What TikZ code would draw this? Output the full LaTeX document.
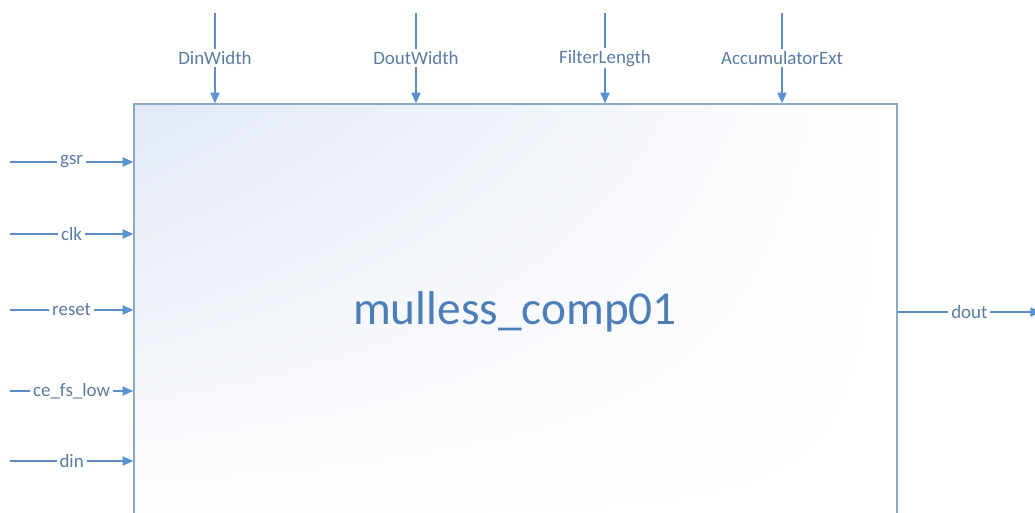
\documentclass[tikz,border=0pt]{standalone}
\usepackage{fontspec}
\setmainfont{Carlito}
\usetikzlibrary{arrows.meta,shadings}
\definecolor{linec}{HTML}{5A8CC6}
\definecolor{tipc}{HTML}{5B93D0}
\definecolor{textc}{HTML}{5A7DA4}
\definecolor{titlec}{HTML}{4C7EB8}
\definecolor{borderc}{HTML}{8DA8C8}
\definecolor{shadec}{HTML}{E2E9F5}
\tikzset{
  sig/.style={draw=linec, line width=0.8pt, -{Triangle[length=8pt,width=7pt,color=tipc]}},
  lbl/.style={fill=white, text=textc, inner xsep=2.2pt, inner ysep=1.5pt, font=\fontsize{14.2pt}{16pt}\selectfont},
  blockbox/.style={draw=borderc, line width=1.1pt, shade, upper left=shadec, upper right=white, lower left=white, lower right=white, minimum width=572.25pt, minimum height=319.5pt, inner sep=0pt},
  titlelbl/.style={text=titlec, font=\fontsize{35.5pt}{40pt}\selectfont, inner sep=0pt}
}
\begin{document}
\begin{tikzpicture}[x=0.75pt, y=-0.75pt]
\useasboundingbox (0,0) rectangle (1035,512);
\clip (0,0) rectangle (1035,512);
\fill[white] (0,0) rectangle (1035,512);
\node[blockbox] (box) at (515.5,317) {};
\node[titlelbl] (title) at (515,312) {mulless\_comp01};
% parameters on top
\coordinate (dinw) at (215,13);
\coordinate (doutw) at (416,13);
\coordinate (filt) at (605,13);
\coordinate (accx) at (782,13);
\draw[sig] (dinw) -- node[lbl] (ldinw) {DinWidth} (dinw |- box.north);
\draw[sig] (doutw) -- node[lbl] (ldoutw) {DoutWidth} (doutw |- box.north);
\draw[sig] (filt) -- node[lbl] (lfilt) {FilterLength} (filt |- box.north);
\draw[sig] (accx) -- node[lbl] (laccx) {AccumulatorExt} (accx |- box.north);
% inputs on the left
\coordinate (gsrs) at (10,162);
\coordinate (clks) at (10,234);
\coordinate (rsts) at (10,310);
\coordinate (ces) at (10,391);
\coordinate (dins) at (10,461);
\draw[sig] (gsrs) -- node[lbl] (lgsr) {gsr} (gsrs -| box.west);
\draw[sig] (clks) -- node[lbl] (lclk) {clk} (clks -| box.west);
\draw[sig] (rsts) -- node[lbl] (lrst) {reset} (rsts -| box.west);
\draw[sig] (ces) -- node[lbl] (lce) {ce\_fs\_low} (ces -| box.west);
\draw[sig] (dins) -- node[lbl] (ldin) {din} (dins -| box.west);
% output on the right
\coordinate (doute) at (1041,312);
\draw[sig] (doute -| box.east) -- node[lbl, pos=0.5] (ldout) {dout} (doute);
\end{tikzpicture}
\end{document}
